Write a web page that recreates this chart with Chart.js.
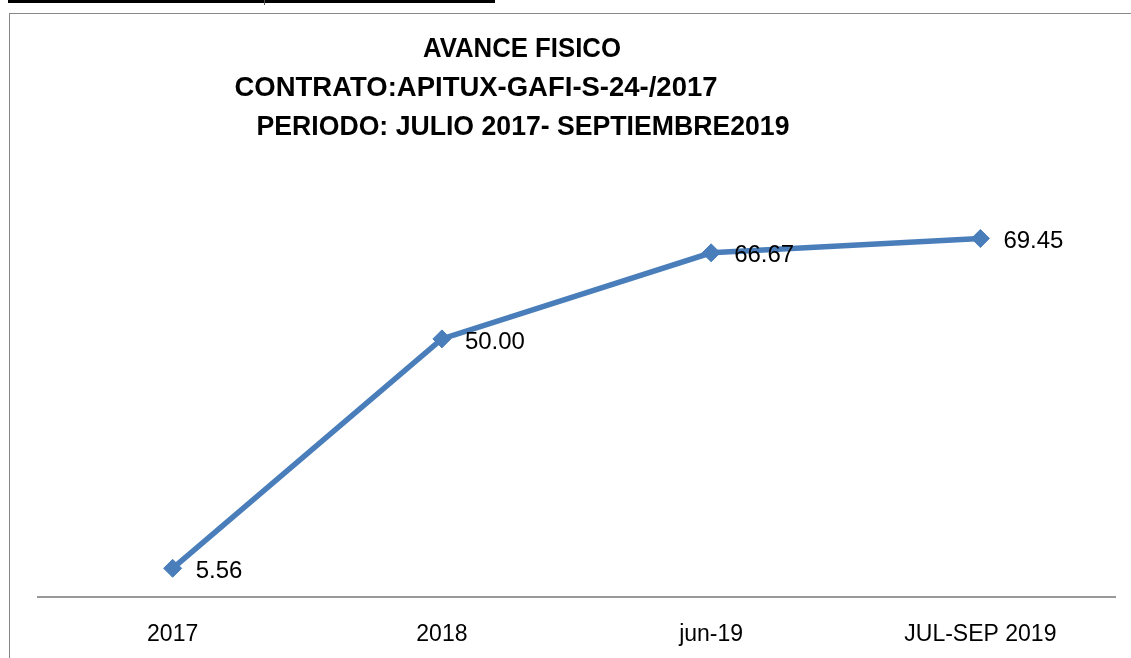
<!DOCTYPE html>
<html>
<head>
<meta charset="utf-8">
<script src="https://cdn.jsdelivr.net/npm/chart.js@4.4.1/dist/chart.umd.min.js"></script>
<style>
  html, body { margin: 0; padding: 0; background: #fff; }
  body { width: 1131px; height: 658px; position: relative; overflow: hidden; }
  #topLine { position: absolute; left: 8px; top: 0; width: 487px; height: 3px; background: #000; }
  #topTick { position: absolute; left: 264px; top: 0; width: 1px; height: 5px; background: #555; }
  #frame { position: absolute; left: 9px; top: 13px; width: 1140px; height: 700px;
           border-left: 1px solid #888; border-top: 1px solid #888; }
  #wrap { position: absolute; left: 0; top: 0; width: 1131px; height: 658px; }
</style>
</head>
<body>
<div id="topLine"></div>
<div id="topTick"></div>
<div id="frame"></div>
<div id="wrap"><canvas id="avanceChart" width="1131" height="658"></canvas></div>
<script>
// chart data
const categories = ["2017", "2018", "jun-19", "JUL-SEP 2019"];
const avanceValues = [5.56, 50.00, 66.67, 69.45];
const titleLines = [
    "AVANCE FISICO",
    "CONTRATO:APITUX-GAFI-S-24-/2017",
    "PERIODO: JULIO 2017- SEPTIEMBRE2019"
];

const lineColor = "#4A7EBB";

// title drawn line by line (Excel offsets each line a bit)
const titlePlugin = {
    id: "titleLines",
    afterDraw(chart) {
        const ctx = chart.ctx;
        const spots = [
            { cx: 522, cy: 50, w: 198 },
            { cx: 476, cy: 89, w: 483 },
            { cx: 523, cy: 128, w: 533 }
        ];
        ctx.save();
        ctx.fillStyle = "#000";
        ctx.font = "bold 27px 'Liberation Sans', Arial, sans-serif";
        ctx.textAlign = "center";
        ctx.textBaseline = "middle";
        titleLines.forEach((txt, i) => {
            const s = spots[i];
            const real = ctx.measureText(txt).width;
            const k = s.w / real;
            ctx.save();
            ctx.translate(s.cx, s.cy);
            ctx.scale(k, 1);
            ctx.fillText(txt, 0, 0);
            ctx.restore();
        });
        ctx.restore();
    }
};

// value labels to the right of each point
const valueLabels = {
    id: "valueLabels",
    afterDatasetsDraw(chart) {
        const ctx = chart.ctx;
        const meta = chart.getDatasetMeta(0);
        ctx.save();
        ctx.fillStyle = "#000";
        ctx.font = "24px 'Liberation Sans', Arial, sans-serif";
        ctx.textAlign = "left";
        ctx.textBaseline = "middle";
        meta.data.forEach((pt, i) => {
            ctx.fillText(avanceValues[i].toFixed(2), pt.x + 23, pt.y + 3);
        });
        ctx.restore();
    }
};

const ctx = document.getElementById("avanceChart").getContext("2d");
new Chart(ctx, {
    type: "line",
    data: {
        labels: categories,
        datasets: [{
            label: "Avance fisico",
            data: avanceValues,
            borderColor: lineColor,
            backgroundColor: lineColor,
            borderWidth: 5.5,
            pointStyle: "rectRot",
            pointRadius: 9,
            pointHoverRadius: 9,
            pointBackgroundColor: lineColor,
            pointBorderColor: lineColor,
            pointBorderWidth: 1,
            tension: 0
        }]
    },
    options: {
        responsive: false,
        animation: false,
        layout: { padding: { left: 38, right: 16, top: 184, bottom: 0 } },
        plugins: {
            legend: { display: false },
            tooltip: { enabled: false },
            title: { display: false }
        },
        scales: {
            x: {
                offset: true,
                grid: { display: false },
                border: { display: true, color: "#999", width: 2 },
                ticks: {
                    color: "#000",
                    padding: 16,
                    font: { family: "'Liberation Sans', Arial, sans-serif", size: 23 }
                },
                afterFit(scale) { scale.height = 61; }
            },
            y: {
                display: false,
                min: 0,
                max: 80
            }
        }
    },
    plugins: [titlePlugin, valueLabels]
});
</script>
</body>
</html>
